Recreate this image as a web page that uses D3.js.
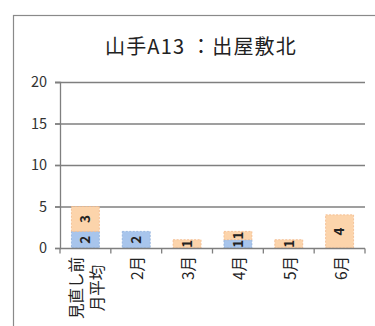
<!DOCTYPE html>
<html><head><meta charset="utf-8">
<script src="https://cdn.jsdelivr.net/npm/d3@7"></script>
<style>body{margin:0;background:#fff;} svg{display:block;}</style>
</head><body>
<svg id="c" width="375" height="326"></svg>
<script>
const title = "山手A13 ：出屋敷北";
const categories = [["見直し前","月平均"],["2月"],["3月"],["4月"],["5月"],["6月"]];
const seriesBlue = [2, 2, 0, 1, 0, 0];
const seriesOrange = [3, 0, 1, 1, 1, 4];
const yTicks = [0, 5, 10, 15, 20];

const font = "'Noto Sans CJK JP', 'Noto Sans', sans-serif";
const svg = d3.select("#c");
svg.append("rect").attr("x",13.5).attr("y",15.5).attr("width",400).attr("height",400)
  .attr("fill","none").attr("stroke","#8a8a8a").attr("stroke-width",1.2);

svg.append("text").attr("x",201).attr("y",54).attr("text-anchor","middle")
  .attr("font-family",font).attr("font-size",20).attr("letter-spacing",1.2).attr("fill","#222").text(title);

const x = d3.scaleBand().domain(d3.range(categories.length)).range([60,365]).paddingInner(0.45).paddingOuter(0.225);
const y = d3.scaleLinear().domain([0,20]).range([248,82]);

// gridlines
svg.append("g").selectAll("line").data(yTicks.filter(d=>d>0)).join("line")
  .attr("x1",55).attr("x2",365).attr("y1",d=>y(d)+0.5).attr("y2",d=>y(d)+0.5)
  .attr("stroke","#7f7f7f").attr("stroke-width",1.3);

const yAxis = svg.append("g").attr("transform","translate(60,0)")
  .call(d3.axisLeft(y).tickValues(yTicks).tickSize(5).tickPadding(8));
yAxis.select(".domain").attr("stroke","#7f7f7f").attr("stroke-width",1.3);
yAxis.selectAll(".tick line").attr("stroke","#7f7f7f").attr("stroke-width",1.3);
yAxis.selectAll("text").attr("font-family",font).attr("font-size",14.5).attr("fill","#333");

// stacked bars
const stack = d3.stack().keys(["blue","orange"]);
const rows = categories.map((c,i)=>({i, blue:seriesBlue[i], orange:seriesOrange[i]}));
const stacked = stack(rows);
const fills = {blue:"#a8c5ec", orange:"#fcd4ab"};
const strokes = {blue:"#8fb0dc", orange:"#f2b98a"};
stacked.forEach(s=>{
  const g = svg.append("g");
  g.selectAll("rect").data(s.filter(d=>d[1]-d[0]>0)).join("rect")
    .attr("x",d=>x(d.data.i)).attr("width",x.bandwidth())
    .attr("y",d=>y(d[1])).attr("height",d=>y(d[0])-y(d[1]))
    .attr("fill",fills[s.key]).attr("stroke",strokes[s.key]).attr("stroke-dasharray","2,1.5").attr("stroke-width",0.8);
});
stacked.forEach(s=>{
  svg.append("g").selectAll("text").data(s.filter(d=>d[1]-d[0]>0)).join("text")
    .attr("transform",d=>`translate(${x(d.data.i)+x.bandwidth()/2},${(y(d[0])+y(d[1]))/2}) rotate(-90)`)
    .attr("text-anchor","middle").attr("dy","0.36em")
    .attr("font-family",font).attr("font-size",13.5).attr("font-weight","bold").attr("fill","#222")
    .text(d=>d[1]-d[0]);
});

// x axis
const xAxisG = svg.append("g").attr("transform","translate(0,248.5)");
xAxisG.append("line").attr("x1",60).attr("x2",365).attr("stroke","#7f7f7f").attr("stroke-width",1.3);
const boundaries = d3.range(categories.length+1).map(i=>60+i*(305/categories.length));
xAxisG.selectAll("line.t").data(boundaries).join("line").attr("class","t")
  .attr("x1",d=>d).attr("x2",d=>d).attr("y1",0).attr("y2",5).attr("stroke","#7f7f7f").attr("stroke-width",1.3);

// category labels
const lineH = 21;
categories.forEach((lines,i)=>{
  const cx = x(i)+x.bandwidth()/2 + 1.5;
  const t = svg.append("text").attr("transform",`translate(${cx},256) rotate(-90)`)
    .attr("font-family",font).attr("font-size",15.5).attr("fill","#222");
  const n = lines.length;
  const maxLen = 64;
  lines.forEach((ln,j)=>{
    t.append("tspan").attr("x",-maxLen/2 * (n>1?1:0)).attr("text-anchor",n>1?"middle":"end")
      .attr("y",(j-(n-1)/2)*lineH).attr("dy","0.36em").text(ln);
  });
});
</script>
</body></html>
